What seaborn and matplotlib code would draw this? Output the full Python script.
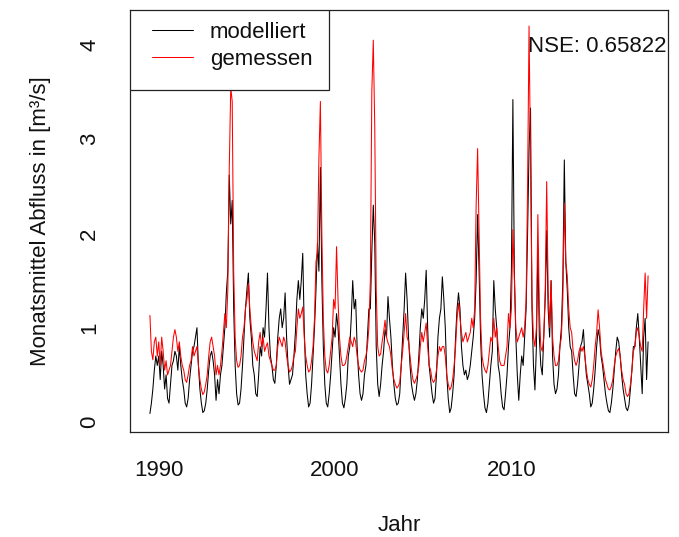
import matplotlib
matplotlib.use("Agg")
import numpy as np
import pandas as pd
import matplotlib.pyplot as plt
import matplotlib.patches as mpatches
import seaborn as sns

# Monthly series, first value = July 1989, last value = October 2017
start_year = 1989
start_month = 7

modelliert = [
    0.09, 0.20, 0.35, 0.55, 0.70, 0.60,                                  # 1989 Jul-Dec
    0.70, 0.45, 0.75, 0.60, 0.35, 0.50, 0.25, 0.20, 0.40, 0.60, 0.65, 0.75,  # 1990
    0.70, 0.55, 0.80, 0.60, 0.45, 0.35, 0.20, 0.16, 0.25, 0.45, 0.60, 0.75,  # 1991
    0.80, 0.90, 1.00, 0.60, 0.35, 0.20, 0.10, 0.12, 0.20, 0.35, 0.55, 0.70,  # 1992
    0.75, 0.65, 0.50, 0.23, 0.45, 0.30, 0.50, 0.60, 0.80, 1.00, 1.37, 1.60,  # 1993
    2.62, 2.10, 2.35, 1.20, 0.60, 0.30, 0.18, 0.20, 0.35, 0.60, 0.90, 1.20,  # 1994
    1.40, 1.58, 1.10, 0.90, 0.60, 0.50, 0.30, 0.27, 0.50, 0.80, 0.70, 1.00,  # 1995
    0.90, 1.20, 1.58, 1.00, 0.70, 0.60, 0.45, 0.41, 0.60, 0.90, 1.10, 1.20,  # 1996
    1.00, 1.10, 1.37, 0.90, 0.60, 0.40, 0.45, 0.50, 0.70, 0.95, 1.30, 1.50,  # 1997
    1.30, 1.50, 1.79, 1.00, 0.50, 0.30, 0.16, 0.20, 0.40, 0.70, 1.00, 1.40,  # 1998
    1.90, 1.60, 2.70, 1.50, 0.80, 0.40, 0.20, 0.16, 0.30, 0.50, 0.75, 1.00,  # 1999
    0.90, 1.15, 1.00, 0.70, 0.40, 0.20, 0.15, 0.25, 0.40, 0.70, 0.80, 1.10,  # 2000
    1.50, 1.20, 1.30, 0.80, 0.50, 0.30, 0.23, 0.30, 0.50, 0.60, 0.90, 1.20,  # 2001
    1.20, 1.80, 2.30, 1.90, 0.80, 0.40, 0.27, 0.40, 0.60, 0.75, 0.98, 0.90,  # 2002
    1.33, 1.10, 0.90, 0.60, 0.40, 0.25, 0.18, 0.20, 0.30, 0.60, 0.90, 1.20,  # 2003
    1.58, 1.30, 0.90, 0.60, 0.40, 0.30, 0.23, 0.30, 0.45, 0.70, 1.00, 1.20,  # 2004
    1.10, 1.30, 1.61, 1.00, 0.60, 0.45, 0.30, 0.20, 0.25, 0.50, 0.90, 1.10,  # 2005
    1.20, 1.54, 1.30, 1.00, 0.50, 0.25, 0.10, 0.15, 0.30, 0.50, 0.90, 1.20,  # 2006
    1.37, 1.20, 0.80, 0.60, 0.50, 0.55, 0.45, 0.50, 0.60, 0.75, 0.90, 1.10,  # 2007
    1.50, 2.20, 1.60, 0.90, 0.50, 0.30, 0.15, 0.10, 0.20, 0.40, 0.60, 0.75,  # 2008
    1.50, 1.20, 1.00, 0.60, 0.50, 0.30, 0.16, 0.13, 0.30, 0.50, 0.80, 1.00,  # 2009
    1.60, 3.42, 1.60, 0.90, 0.50, 0.23, 0.50, 0.70, 0.60, 0.90, 1.20, 2.00,  # 2010
    2.90, 3.33, 1.20, 0.60, 0.34, 0.80, 1.85, 0.90, 0.60, 0.50, 0.90, 1.30,  # 2011
    2.03, 1.20, 0.90, 1.50, 0.70, 0.40, 0.30, 0.35, 0.50, 0.80, 1.00, 1.50,  # 2012
    2.78, 1.70, 1.40, 1.00, 0.80, 0.75, 0.50, 0.30, 0.27, 0.40, 0.60, 0.80,  # 2013
    0.85, 0.98, 0.70, 0.50, 0.40, 0.30, 0.16, 0.20, 0.35, 0.55, 0.80, 0.98,  # 2014
    0.90, 0.70, 0.60, 0.45, 0.30, 0.20, 0.12, 0.10, 0.20, 0.35, 0.55, 0.75,  # 2015
    0.90, 0.85, 0.70, 0.50, 0.35, 0.25, 0.15, 0.12, 0.18, 0.35, 0.55, 0.80,  # 2016
    0.80, 1.00, 1.15, 0.90, 0.60, 0.30, 0.90, 1.10, 0.45, 0.85,              # 2017 Jan-Oct
]

gemessen = [
    1.13, 0.75, 0.66, 0.85, 0.90, 0.70,                                  # 1989 Jul-Dec
    0.85, 0.60, 0.90, 0.75, 0.55, 0.65, 0.50, 0.55, 0.60, 0.75, 0.90, 0.98,  # 1990
    0.90, 0.75, 0.85, 0.70, 0.60, 0.55, 0.45, 0.42, 0.50, 0.60, 0.65, 0.80,  # 1991
    0.70, 0.75, 0.80, 0.60, 0.45, 0.35, 0.29, 0.32, 0.40, 0.50, 0.70, 0.85,  # 1992
    0.90, 0.80, 0.70, 0.50, 0.60, 0.50, 0.60, 0.75, 0.95, 1.15, 1.00, 1.40,  # 1993
    2.70, 3.55, 3.40, 1.60, 0.90, 0.65, 0.58, 0.60, 0.70, 0.90, 1.00, 1.20,  # 1994
    1.30, 1.47, 1.20, 1.00, 0.85, 0.75, 0.70, 0.65, 0.85, 0.95, 0.80, 0.90,  # 1995
    0.75, 0.80, 0.84, 0.70, 0.65, 0.60, 0.55, 0.55, 0.60, 0.80, 0.90, 0.85,  # 1996
    0.80, 0.90, 0.85, 0.70, 0.60, 0.53, 0.55, 0.60, 0.70, 0.75, 1.00, 1.20,  # 1997
    1.10, 1.15, 1.22, 0.90, 0.70, 0.60, 0.53, 0.55, 0.65, 0.80, 1.10, 1.70,  # 1998
    1.80, 2.80, 3.40, 2.00, 1.10, 0.70, 0.55, 0.52, 0.60, 0.75, 0.90, 1.30,  # 1999
    1.20, 1.86, 1.30, 0.90, 0.70, 0.60, 0.60, 0.62, 0.70, 0.80, 0.90, 0.85,  # 2000
    0.80, 0.90, 0.85, 0.70, 0.60, 0.55, 0.53, 0.55, 0.65, 0.70, 0.80, 1.00,  # 2001
    1.50, 3.50, 4.05, 3.13, 1.40, 0.80, 0.70, 0.72, 0.85, 0.95, 1.08, 0.90,  # 2002
    0.84, 0.80, 0.70, 0.55, 0.45, 0.40, 0.36, 0.38, 0.42, 0.60, 0.75, 0.95,  # 2003
    1.15, 0.90, 0.85, 0.70, 0.55, 0.45, 0.41, 0.45, 0.50, 0.60, 0.80, 0.95,  # 2004
    0.85, 0.95, 1.05, 0.80, 0.60, 0.55, 0.45, 0.42, 0.45, 0.55, 0.70, 0.80,  # 2005
    0.75, 0.80, 0.80, 0.70, 0.50, 0.40, 0.34, 0.37, 0.45, 0.60, 0.80, 1.10,  # 2006
    1.26, 1.10, 0.95, 0.85, 0.90, 0.95, 0.85, 0.90, 0.95, 1.10, 1.00, 1.20,  # 2007
    2.30, 2.90, 2.00, 1.10, 0.70, 0.60, 0.55, 0.52, 0.60, 0.75, 0.90, 0.85,  # 2008
    1.10, 0.90, 1.00, 0.80, 0.65, 0.60, 0.60, 0.60, 0.70, 0.80, 1.15, 1.00,  # 2009
    1.20, 2.04, 1.50, 1.00, 0.85, 0.90, 0.95, 1.00, 0.90, 1.00, 1.30, 2.50,  # 2010
    4.20, 2.70, 1.30, 0.90, 0.80, 1.00, 2.20, 1.20, 0.80, 0.75, 0.90, 1.40,  # 2011
    2.55, 1.40, 1.00, 1.50, 0.90, 0.70, 0.60, 0.60, 0.65, 0.80, 0.90, 1.30,  # 2012
    2.32, 1.70, 1.55, 1.20, 1.00, 0.95, 0.75, 0.65, 0.60, 0.65, 0.75, 0.80,  # 2013
    0.75, 0.80, 0.70, 0.55, 0.45, 0.40, 0.37, 0.45, 0.60, 0.80, 0.95, 1.19,  # 2014
    1.00, 0.75, 0.65, 0.55, 0.45, 0.40, 0.35, 0.34, 0.38, 0.45, 0.60, 0.70,  # 2015
    0.75, 0.78, 0.70, 0.55, 0.45, 0.40, 0.30, 0.27, 0.30, 0.40, 0.55, 0.75,  # 2016
    0.80, 0.95, 1.00, 0.90, 0.80, 0.75, 1.20, 1.58, 1.10, 1.55,              # 2017 Jan-Oct
]

x_ticks = [1990, 2000, 2010]
y_ticks = [0, 1, 2, 3, 4]
nse_value = 0.65822

# decimal year of each month
n = len(modelliert)
jahr = start_year + (start_month - 1 + np.arange(n)) / 12.0

df = pd.DataFrame({
    "Jahr": np.concatenate([jahr, jahr]),
    "Abfluss": np.concatenate([modelliert, gemessen]),
    "Reihe": ["modelliert"] * n + ["gemessen"] * n,
})

sns.set_theme(style="white")
plt.rcParams["font.family"] = ["Liberation Sans", "DejaVu Sans"]
fs = 16

fig = plt.figure(figsize=(6.79, 5.37), dpi=100)
ax = fig.add_axes([130 / 679, 1 - 432 / 537, 538 / 679, 422 / 537])

sns.lineplot(data=df, x="Jahr", y="Abfluss", hue="Reihe",
             palette={"modelliert": "black", "gemessen": "#ff0000"},
             linewidth=0.75, ax=ax, legend=False, estimator=None, sort=False)

# R-style axis limits: 4 % padding around the data range
def padded(lo, hi):
    d = (hi - lo) * 0.04
    return lo - d, hi + d

ax.set_xlim(*padded(jahr.min(), jahr.max()))
ax.set_ylim(-0.106, 4.37)

ax.set_xticks(x_ticks)
ax.set_yticks(y_ticks)
ax.tick_params(axis="both", direction="out", length=9.4, width=0.8,
               color="#333333", labelsize=fs, labelcolor="#111111")
ax.tick_params(axis="x", pad=11)
ax.tick_params(axis="y", pad=12, labelrotation=90)
for lab in ax.get_yticklabels():
    lab.set_verticalalignment("center")

for sp in ax.spines.values():
    sp.set_visible(True)
    sp.set_color("#222222")
    sp.set_linewidth(0.9)

ax.set_xlabel("Jahr", fontsize=fs, labelpad=24, color="#111111")
ax.set_ylabel("Monatsmittel Abfluss in [m³/s]", fontsize=fs, labelpad=20,
              color="#111111")

# legend box in the top-left corner
box = mpatches.Rectangle((0, 1 - 80 / 422), 199 / 538, 80 / 422,
                         transform=ax.transAxes, facecolor="white",
                         edgecolor="#222222", linewidth=0.9, zorder=4)
ax.add_patch(box)
handles = [plt.Line2D([], [], color="black", lw=0.75),
           plt.Line2D([], [], color="#ff0000", lw=0.75)]
leg = ax.legend(handles, ["modelliert", "gemessen"], loc="upper left",
                bbox_to_anchor=(22 / 538, 1 - 12 / 422), frameon=False,
                borderpad=0, borderaxespad=0, handlelength=1.85,
                handletextpad=0.75, labelspacing=0.28, fontsize=fs)
leg.set_zorder(5)
for t in leg.get_texts():
    t.set_color("#111111")

ax.text(536 / 538, 1 - 37 / 422, f"NSE: {nse_value}", transform=ax.transAxes,
        ha="right", va="center", fontsize=fs, color="#111111", zorder=6)

fig.savefig("out.png", dpi=100)
